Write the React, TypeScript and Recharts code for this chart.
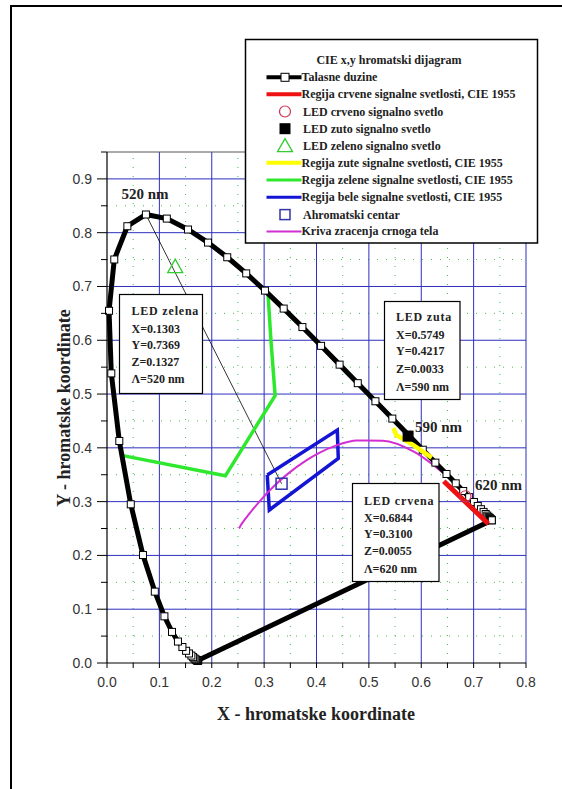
import React from 'react';
import { ScatterChart, Scatter, XAxis, YAxis, ReferenceLine } from 'recharts';

// Spectral locus (CIE 1931), 380..700 nm step 5
const wavelengths = [380,385,390,395,400,405,410,415,420,425,430,435,440,445,450,455,460,465,470,475,480,485,490,495,500,505,510,515,520,525,530,535,540,545,550,555,560,565,570,575,580,585,590,595,600,605,610,615,620,625,630,635,640,645,650,655,660,665,670,675,680,685,690,695,700];
const locusX = [0.1741,0.1740,0.1738,0.1736,0.1733,0.1730,0.1726,0.1721,0.1714,0.1703,0.1689,0.1669,0.1644,0.1611,0.1566,0.1510,0.1440,0.1355,0.1241,0.1096,0.0913,0.0687,0.0454,0.0235,0.0082,0.0039,0.0139,0.0389,0.0743,0.1142,0.1547,0.1929,0.2296,0.2658,0.3016,0.3373,0.3731,0.4087,0.4441,0.4788,0.5125,0.5448,0.5752,0.6029,0.6270,0.6482,0.6658,0.6801,0.6915,0.7006,0.7079,0.7140,0.7190,0.7230,0.7260,0.7283,0.7300,0.7311,0.7320,0.7327,0.7334,0.7340,0.7344,0.7346,0.7347];
const locusY = [0.0050,0.0050,0.0049,0.0049,0.0048,0.0048,0.0048,0.0048,0.0051,0.0058,0.0069,0.0086,0.0109,0.0138,0.0177,0.0227,0.0297,0.0399,0.0578,0.0868,0.1327,0.2007,0.2950,0.4127,0.5384,0.6548,0.7502,0.8120,0.8338,0.8262,0.8059,0.7816,0.7543,0.7243,0.6923,0.6589,0.6245,0.5896,0.5547,0.5202,0.4866,0.4544,0.4242,0.3965,0.3725,0.3514,0.3340,0.3197,0.3083,0.2993,0.2920,0.2859,0.2809,0.2770,0.2740,0.2717,0.2700,0.2689,0.2680,0.2673,0.2666,0.2660,0.2656,0.2654,0.2653];

// Planckian locus (black body)
const planckX = [0.2522,0.2565,0.2637,0.2807,0.2952,0.3064,0.3221,0.3451,0.3805,0.4053,0.4369,0.4770,0.5267,0.5857,0.6528];
const planckY = [0.2502,0.2577,0.2673,0.2883,0.3048,0.3166,0.3318,0.3516,0.3768,0.3907,0.4041,0.4137,0.4133,0.3931,0.3444];

// CIE 1955 signal regions
const redX = [0.643, 0.728];
const redY = [0.338, 0.259];
const yellowX = [0.547, 0.552, 0.585, 0.620];
const yellowY = [0.437, 0.424, 0.405, 0.382];
const greenX = [0.3075, 0.313, 0.321, 0.226, 0.028];
const greenY = [0.685, 0.600, 0.497, 0.348, 0.386];
const whiteX = [0.306, 0.4397, 0.4416, 0.3099, 0.306];
const whiteY = [0.3495, 0.433, 0.3806, 0.2844, 0.3495];

// LED points
const ledRed = [{ x: 0.6844, y: 0.3100 }];
const ledYellow = [{ x: 0.5749, y: 0.4217 }];
const ledGreen = [{ x: 0.1303, y: 0.7369 }];
const achromatic = [{ x: 0.3333, y: 0.3333 }];
const dominantLine = [{ x: 0.3333, y: 0.3333 }, { x: 0.0743, y: 0.8338 }];

const xTicks = [0,0.05,0.1,0.15,0.2,0.25,0.3,0.35,0.4,0.45,0.5,0.55,0.6,0.65,0.7,0.75,0.8];
const yTicks = [0,0.05,0.1,0.15,0.2,0.25,0.3,0.35,0.4,0.45,0.5,0.55,0.6,0.65,0.7,0.75,0.8,0.85,0.9,0.95];
const xMajorGrid = [0.1,0.2,0.3,0.4,0.5,0.6,0.7,0.8];
const yMajorGrid = [0.1,0.2,0.3,0.4,0.5,0.6,0.7,0.8,0.9];
const xMinorGrid = [0.05,0.15,0.25,0.35,0.45,0.55,0.65,0.75];
const yMinorGrid = [0.05,0.15,0.25,0.35,0.45,0.55,0.65,0.75,0.85];

const legendTitle = 'CIE x,y hromatski dijagram';
const legendItems = [
  'Talasne duzine',
  'Regija crvene signalne svetlosti, CIE 1955',
  'LED crveno signalno svetlo',
  'LED zuto signalno svetlo',
  'LED zeleno signalno svetlo',
  'Regija zute signalne svetlosti, CIE 1955',
  'Regija zelene signalne svetlosti, CIE 1955',
  'Regija bele signalne svetlosti, CIE 1955',
  'Ahromatski centar',
  'Kriva zracenja crnoga tela',
];
const boxGreen = ['LED zelena', 'X=0.1303', 'Y=0.7369', 'Z=0.1327', 'Λ=520 nm'];
const boxYellow = ['LED zuta', 'X=0.5749', 'Y=0.4217', 'Z=0.0033', 'Λ=590 nm'];
const boxRed = ['LED crvena', 'X=0.6844', 'Y=0.3100', 'Z=0.0055', 'Λ=620 nm'];

const toPts = (xs: number[], ys: number[]) => xs.map((x, i) => ({ x, y: ys[i] }));

const locusData = [
  ...wavelengths.map((w, i) => ({ x: locusX[i], y: locusY[i], mark: true, w })),
  { x: locusX[0], y: locusY[0], mark: false, w: 0 },
];

const SERIF = "'Liberation Serif', 'Times New Roman', serif";
const SANS = "'Liberation Sans', Arial, sans-serif";

const C = {
  grid: '#2f2fc0',
  minor: '#3fbf3f',
  red: '#ee1111',
  yellow: '#ffff00',
  green: '#2ee82e',
  blue: '#1414d4',
  magenta: '#d22ed2',
  ledRed: '#cc3355',
  ledGreen: '#33cc33',
  achro: '#3333aa',
};

const isMajor = (v: number) => Math.round(v * 100) % 10 === 0;

const Nothing = () => <g />;

const LocusMarker = (props: any) => {
  const { cx, cy, payload } = props;
  if (!payload || payload.mark === false || cx == null) return <g />;
  return <rect x={cx - 3.5} y={cy - 3.5} width={7} height={7} fill="#fff" stroke="#000" strokeWidth={1} />;
};
const CircleMarker = (props: any) => <circle cx={props.cx} cy={props.cy} r={5.5} fill="none" stroke={C.ledRed} strokeWidth={1.2} />;
const FilledSquare = (props: any) => <rect x={props.cx - 5.5} y={props.cy - 5.5} width={11} height={11} fill="#000" />;
const Triangle = (props: any) => {
  const { cx, cy } = props;
  return <polygon points={`${cx},${cy - 7.5} ${cx - 7.5},${cy + 6} ${cx + 7.5},${cy + 6}`} fill="none" stroke={C.ledGreen} strokeWidth={1.3} />;
};
const OpenSquare = (props: any) => <rect x={props.cx - 5.5} y={props.cy - 5.5} width={11} height={11} fill="none" stroke={C.achro} strokeWidth={1.5} />;

const YTick = (props: any) => {
  const { x, y, payload } = props;
  const v = payload.value;
  const maj = isMajor(v);
  return (
    <g>
      <line x1={x + 5 + (maj ? 0 : 4)} x2={x + 15} y1={y} y2={y} stroke="#000" strokeWidth={1} />
      {maj && (
        <text x={x} y={y} dy="0.355em" textAnchor="end" fontSize={14} fill="#333" fontFamily={SANS}>
          {v.toFixed(1)}
        </text>
      )}
    </g>
  );
};

const TextBox = ({ x, y, w, h, lines, tx, baselines }: any) => (
  <g>
    <rect x={x} y={y} width={w} height={h} fill="#fff" stroke="#000" strokeWidth={1.2} />
    {lines.map((t: string, i: number) => (
      <text key={i} x={tx} y={baselines[i]} fontSize={12} fontWeight="bold" fontFamily={SERIF} fill="#222" letterSpacing={i === 0 ? 0.8 : 0}>
        {t}
      </text>
    ))}
  </g>
);

const LegendIcon = ({ i, cy }: { i: number; cy: number }) => {
  const lx1 = 266.5, lx2 = 301.5, mx = 285;
  switch (i) {
    case 0:
      return (
        <g>
          <line x1={lx1} x2={lx2} y1={cy} y2={cy} stroke="#000" strokeWidth={4} />
          <rect x={mx - 4} y={cy - 4} width={8} height={8} fill="#fff" stroke="#000" />
        </g>
      );
    case 1:
      return <line x1={lx1} x2={lx2} y1={cy} y2={cy} stroke={C.red} strokeWidth={4} />;
    case 2:
      return <circle cx={mx} cy={cy} r={5.5} fill="none" stroke={C.ledRed} strokeWidth={1.2} />;
    case 3:
      return <rect x={mx - 5.5} y={cy - 5.5} width={11} height={11} fill="#000" />;
    case 4:
      return <polygon points={`${mx},${cy - 7} ${mx - 7.5},${cy + 6} ${mx + 7.5},${cy + 6}`} fill="none" stroke={C.ledGreen} strokeWidth={1.3} />;
    case 5:
      return <line x1={lx1} x2={lx2} y1={cy} y2={cy} stroke={C.yellow} strokeWidth={4} />;
    case 6:
      return <line x1={lx1} x2={lx2} y1={cy} y2={cy} stroke={C.green} strokeWidth={3} />;
    case 7:
      return <line x1={lx1} x2={lx2} y1={cy} y2={cy} stroke={C.blue} strokeWidth={3} />;
    case 8:
      return <rect x={mx - 5} y={cy - 5} width={10} height={10} fill="none" stroke={C.achro} strokeWidth={1.5} />;
    case 9:
      return <line x1={lx1} x2={lx2} y1={cy} y2={cy} stroke={C.magenta} strokeWidth={2} />;
    default:
      return null;
  }
};

const legendRowCenters = [77.3, 94.3, 111.5, 128.7, 145.6, 162.8, 180, 197.3, 214.6, 231.4];
const lineRows = [0, 1, 5, 6, 7, 9];

export default function App() {
  return (
    <div style={{ position: 'absolute', left: 0, top: 0, width: 562, height: 789, overflow: 'hidden', background: '#fff' }}>
      <div style={{ position: 'absolute', left: 0, top: 0 }}>
        <ScatterChart width={562} height={789} margin={{ top: 152, right: 36, bottom: 96, left: 0 }}>
          <XAxis
            type="number"
            dataKey="x"
            domain={[0, 0.8]}
            ticks={xTicks}
            interval={0}
            height={30}
            tickSize={5}
            tickMargin={9}
            tickFormatter={(v: number) => (isMajor(v) ? v.toFixed(1) : '')}
            tick={{ fontSize: 14, fill: '#333', fontFamily: SANS }}
            axisLine={{ stroke: '#000', strokeWidth: 1.2 }}
            tickLine={{ stroke: '#000' }}
          />
          <YAxis
            type="number"
            dataKey="y"
            domain={[0, 0.95]}
            ticks={yTicks}
            interval={0}
            width={107}
            tickSize={10}
            tickMargin={5}
            tickLine={false}
            tick={<YTick />}
            axisLine={{ stroke: '#000', strokeWidth: 1.2 }}
          />
          {xMinorGrid.map((v) => (
            <ReferenceLine key={'xm' + v} x={v} stroke={C.minor} strokeWidth={1} strokeDasharray="1 8" />
          ))}
          {yMinorGrid.map((v) => (
            <ReferenceLine key={'ym' + v} y={v} stroke={C.minor} strokeWidth={1} strokeDasharray="1 8" />
          ))}
          {xMajorGrid.map((v) => (
            <ReferenceLine key={'xM' + v} x={v} stroke={C.grid} strokeWidth={1} />
          ))}
          {yMajorGrid.map((v) => (
            <ReferenceLine key={'yM' + v} y={v} stroke={C.grid} strokeWidth={1} />
          ))}
          <ReferenceLine y={0.95} stroke="#555" strokeWidth={1} />

          <Scatter data={dominantLine} line={{ stroke: '#000', strokeWidth: 0.8 }} shape={<Nothing />} isAnimationActive={false} />
          <Scatter data={toPts(greenX, greenY)} line={{ stroke: C.green, strokeWidth: 3.5 }} shape={<Nothing />} isAnimationActive={false} />
          <Scatter data={toPts(whiteX, whiteY)} line={{ stroke: C.blue, strokeWidth: 3.5 }} shape={<Nothing />} isAnimationActive={false} />
          <Scatter data={toPts(planckX, planckY)} line={{ stroke: C.magenta, strokeWidth: 2 }} lineJointType="monotoneX" shape={<Nothing />} isAnimationActive={false} />
          <Scatter data={locusData} line={{ stroke: '#000', strokeWidth: 5 }} shape={<LocusMarker />} isAnimationActive={false} />
          <Scatter data={toPts(yellowX, yellowY)} line={{ stroke: C.yellow, strokeWidth: 4.5 }} shape={<Nothing />} isAnimationActive={false} />
          <Scatter data={toPts(redX, redY)} line={{ stroke: C.red, strokeWidth: 5 }} shape={<Nothing />} isAnimationActive={false} />
          <Scatter data={achromatic} shape={<OpenSquare />} isAnimationActive={false} />
          <Scatter data={ledGreen} shape={<Triangle />} isAnimationActive={false} />
          <Scatter data={ledYellow} shape={<FilledSquare />} isAnimationActive={false} />
          <Scatter data={ledRed} shape={<CircleMarker />} isAnimationActive={false} />
        </ScatterChart>
      </div>
      <svg width={562} height={789} style={{ position: 'absolute', left: 0, top: 0, pointerEvents: 'none' }}>
        {/* outer frame */}
        <line x1={11} y1={5} x2={11} y2={789} stroke="#000" strokeWidth={2} />
        <line x1={10} y1={6} x2={562} y2={6} stroke="#000" strokeWidth={2} />

        {/* legend */}
        <rect x={245.5} y={39.5} width={292} height={203.5} fill="#fff" stroke="#000" strokeWidth={1.5} />
        <text x={389} y={63.5} textAnchor="middle" fontSize={12} fontWeight="bold" fontFamily={SERIF} fill="#222">
          {legendTitle}
        </text>
        {legendItems.map((t, i) => (
          <g key={i}>
            <LegendIcon i={i} cy={legendRowCenters[i]} />
            <text x={lineRows.includes(i) ? 301.5 : 303} y={legendRowCenters[i] + 4} fontSize={12} fontWeight="bold" fontFamily={SERIF} fill="#222">
              {t}
            </text>
          </g>
        ))}

        {/* info boxes */}
        <TextBox x={119.5} y={294.5} w={83} h={99} tx={131.5} lines={boxGreen} baselines={[315, 332.5, 349, 365.5, 383]} />
        <TextBox x={384.5} y={301.5} w={75.5} h={98} tx={396} lines={boxYellow} baselines={[321.2, 338.5, 355.2, 372.8, 390.5]} />
        <TextBox x={352.5} y={483.5} w={86.5} h={98} tx={364} lines={boxRed} baselines={[505, 521.5, 538, 555, 572.5]} />

        {/* wavelength labels */}
        <text x={121.5} y={199} fontSize={15} fontWeight="bold" fontFamily={SERIF} fill="#222">520 nm</text>
        <text x={415} y={431.5} fontSize={15} fontWeight="bold" fontFamily={SERIF} fill="#222">590 nm</text>
        <text x={475} y={490} fontSize={15} fontWeight="bold" fontFamily={SERIF} fill="#222">620 nm</text>

        {/* axis titles */}
        <text x={316} y={720} textAnchor="middle" fontSize={18} fontWeight="bold" fontFamily={SERIF} fill="#222">
          X - hromatske koordinate
        </text>
        <text transform="translate(70,408) rotate(-90)" textAnchor="middle" fontSize={18} fontWeight="bold" fontFamily={SERIF} fill="#222">
          Y - hromatske koordinate
        </text>
      </svg>
    </div>
  );
}
